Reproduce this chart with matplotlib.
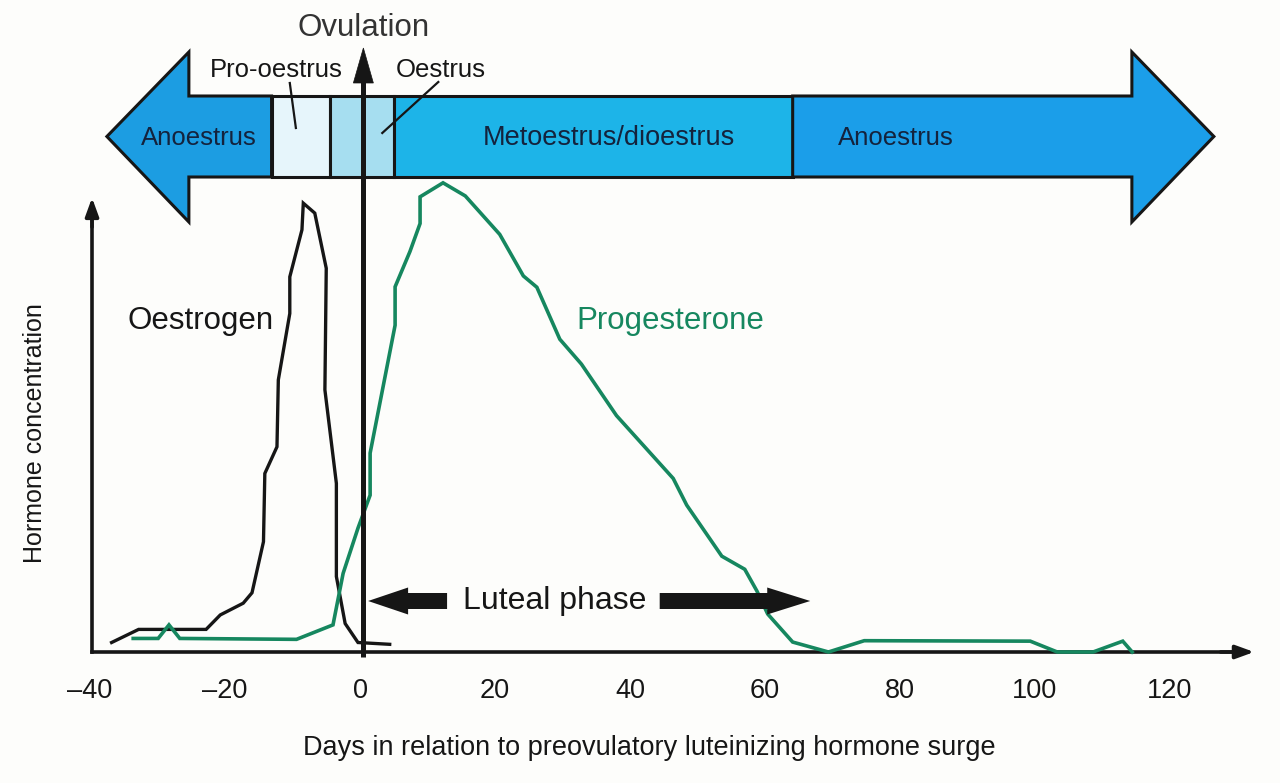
import matplotlib
matplotlib.use("Agg")
import matplotlib.pyplot as plt
from matplotlib.patches import Polygon, Rectangle

# ---------------- data ----------------
oes_days = [-36.8, -32.8, -22.8, -20.7, -17.3, -16.0, -14.3, -14.1, -12.3, -12.1, -10.4,
            -10.4, -8.6, -8.4, -6.7, -5.0, -5.2, -3.5, -3.5, -2.2, -0.3, 4.4]
oes_vals = [2.1, 5.0, 5.0, 8.2, 10.8, 13.1, 24.4, 39.5, 45.4, 60.2, 74.9,
            83.0, 93.4, 99.3, 97.1, 84.9, 58.0, 37.3, 16.7, 6.3, 2.1, 1.7]

pro_days = [-33.6, -29.9, -28.3, -26.7, -9.4, -4.0, -2.5, -0.3, 1.5, 1.5, 5.2, 5.2, 7.4,
            8.9, 8.9, 12.3, 15.6, 20.7, 24.2, 26.2, 29.6, 32.8, 38.0, 46.4, 48.4, 53.6,
            57.0, 58.8, 60.4, 64.1, 69.4, 74.7, 99.3, 103.3, 108.6, 113.0, 114.4]
pro_vals = [3.0, 3.0, 6.0, 3.0, 2.8, 6.0, 17.4, 27.4, 34.7, 44.0, 72.3, 80.8, 88.6,
            94.8, 100.7, 103.8, 100.9, 92.4, 83.2, 80.7, 69.2, 63.7, 52.3, 38.4, 32.5, 21.2,
            18.3, 13.5, 8.4, 2.2, 0.0, 2.5, 2.4, 0.0, 0.0, 2.4, 0.0]

phase_names = ["Anoestrus", "Pro-oestrus", "Oestrus", "Metoestrus/dioestrus", "Anoestrus"]
phase_bounds = [-37.5, -13.1, -4.5, 5.1, 64.1, 126.5]
phase_colors = ["#1c9de2", "#e6f5fb", "#a6def0", "#1db4e8", "#1b9ee9"]

xticks = [-40, -20, 0, 20, 40, 60, 80, 100, 120]
xticklabels = ["\u201340", "\u201320", "0", "20", "40", "60", "80", "100", "120"]

ovulation_day = 0.5
luteal_start, luteal_end = 1.2, 66.7

# ---------------- figure ----------------
PXD = 1 / 6.75   # days per pixel
PXY = 1 / 4.52   # units per pixel

fig = plt.figure(figsize=(12.8, 7.83), dpi=100)
fig.patch.set_facecolor("#fdfdfb")
ax = fig.add_axes([0, 0, 1, 1])
ax.set_facecolor("#fdfdfb")
ax.set_xlim(-360 * PXD, 920 * PXD)
ax.set_ylim(-131 * PXY, 652 * PXY)

SANS = ["Liberation Sans", "DejaVu Sans"]
INK = "#161616"
GREEN = "#16875f"

# axes (spines with arrowheads)
for s in ["top", "right"]:
    ax.spines[s].set_visible(False)
ax.spines["bottom"].set_position(("data", 0))
ax.spines["left"].set_position(("data", -39.7))
ax.spines["bottom"].set_bounds(-39.7, 129.0)
ax.spines["left"].set_bounds(0, 96)
for s in ["bottom", "left"]:
    ax.spines[s].set_linewidth(2.6)
    ax.spines[s].set_color(INK)
ax.annotate("", xy=(129.5 + 20 * PXD, 0), xytext=(127.5, 0),
            arrowprops=dict(arrowstyle="-|>,head_length=1.1,head_width=0.4", lw=2.6,
                            color=INK, shrinkA=0, shrinkB=0))
ax.annotate("", xy=(-39.7, 100.5), xytext=(-39.7, 94.0),
            arrowprops=dict(arrowstyle="-|>,head_length=1.1,head_width=0.4", lw=2.6,
                            color=INK, shrinkA=0, shrinkB=0))

ax.set_xticks(xticks)
ax.set_xticklabels(xticklabels, family=SANS, fontsize=19.5, color=INK)
ax.set_yticks([])
ax.tick_params(axis="x", length=0, pad=19)

# curves
ax.plot(oes_days, oes_vals, color=INK, lw=2.4, solid_joinstyle="miter", zorder=3)
ax.plot(pro_days, pro_vals, color=GREEN, lw=2.6, solid_joinstyle="miter", zorder=3)

# ---------------- phase banner ----------------
sh_top, sh_bot = (652 - 96) * PXY, (652 - 177) * PXY
hd_top, hd_bot = (652 - 52) * PXY, (652 - 222) * PXY
mid = (sh_top + sh_bot) / 2
txt_mid = (652 - 138) * PXY
head_len = 82 * PXD
edge = dict(edgecolor=INK, linewidth=2.2, joinstyle="miter", zorder=4)

b = phase_bounds
left_poly = [(b[0], mid), (b[0] + head_len, hd_top), (b[0] + head_len, sh_top), (b[1], sh_top),
             (b[1], sh_bot), (b[0] + head_len, sh_bot), (b[0] + head_len, hd_bot)]
ax.add_patch(Polygon(left_poly, closed=True, facecolor=phase_colors[0], **edge))
for i in range(1, 4):
    ax.add_patch(Rectangle((b[i], sh_bot), b[i + 1] - b[i], sh_top - sh_bot,
                           facecolor=phase_colors[i], **edge))
right_poly = [(b[4], sh_top), (b[5] - head_len, sh_top), (b[5] - head_len, hd_top), (b[5], mid),
              (b[5] - head_len, hd_bot), (b[5] - head_len, sh_bot), (b[4], sh_bot)]
ax.add_patch(Polygon(right_poly, closed=True, facecolor=phase_colors[4], **edge))

NAVY = "#14233d"
ax.text(-23.9, txt_mid, phase_names[0], ha="center", va="center", fontsize=18.5, family=SANS, color=NAVY, zorder=5)
ax.text(36.9, txt_mid, phase_names[3], ha="center", va="center", fontsize=19.5, family=SANS, color=NAVY, zorder=5)
ax.text(79.4, txt_mid, phase_names[4], ha="center", va="center", fontsize=18.5, family=SANS, color=NAVY, zorder=5)

# Pro-oestrus / Oestrus callouts
ax.text(-12.4, (652 - 70) * PXY, phase_names[1], ha="center", va="center", fontsize=18.5, family=SANS, color=INK)
ax.text(11.9, (652 - 70) * PXY, phase_names[2], ha="center", va="center", fontsize=18.5, family=SANS, color=INK)
ax.plot([-10.4, -9.5], [(652 - 83) * PXY, (652 - 128) * PXY], color=INK, lw=1.6, zorder=6)
ax.plot([11.6, 3.3], [(652 - 82) * PXY, (652 - 133) * PXY], color=INK, lw=1.6, zorder=6)

# ---------------- ovulation arrow ----------------
ov_tip = (652 - 48) * PXY
ax.plot([ovulation_day, ovulation_day], [-1.0, ov_tip - 6], color=INK, lw=3.6,
        solid_capstyle="butt", zorder=7)
ax.add_patch(Polygon([(ovulation_day - 10 * PXD, (652 - 83) * PXY),
                      (ovulation_day, ov_tip),
                      (ovulation_day + 10 * PXD, (652 - 83) * PXY)],
                     closed=True, facecolor=INK, edgecolor=INK, lw=0.5, zorder=7))
ax.text(ovulation_day, (652 - 28) * PXY, "Ovulation", ha="center", va="center",
        fontsize=22.5, family=SANS, color="#333333")

# ---------------- luteal phase arrows ----------------
ly = (652 - 601) * PXY
shaft_h = 8 * PXY
head_h = 13.5 * PXY
lhead = 40 * PXD
l_end = 12.9
ax.add_patch(Polygon([(luteal_start, ly), (luteal_start + lhead, ly + head_h), (luteal_start + lhead, ly + shaft_h),
                      (l_end, ly + shaft_h), (l_end, ly - shaft_h), (luteal_start + lhead, ly - shaft_h),
                      (luteal_start + lhead, ly - head_h)], closed=True, facecolor=INK, edgecolor="none", zorder=6))
r_start = 44.4
rb = luteal_end - lhead - 3 * PXD
ax.add_patch(Polygon([(luteal_end, ly), (rb, ly + head_h), (rb, ly + shaft_h),
                      (r_start, ly + shaft_h), (r_start, ly - shaft_h), (rb, ly - shaft_h),
                      (rb, ly - head_h)], closed=True, facecolor=INK, edgecolor="none", zorder=6))
ax.text(28.9, ly, "Luteal phase", ha="center", va="center", fontsize=23, family=SANS, color=INK)

# ---------------- labels ----------------
ax.text(-23.6, (652 - 321) * PXY, "Oestrogen", ha="center", va="center", fontsize=22.5, family=SANS, color=INK)
ax.text(45.9, (652 - 321) * PXY, "Progesterone", ha="center", va="center", fontsize=22.5, family=SANS, color=GREEN)
ax.text(-48.1, (652 - 433) * PXY, "Hormone concentration", ha="center", va="center", rotation=90,
        fontsize=18, family=SANS, color=INK)
ax.text(42.8, (652 - 748) * PXY, "Days in relation to preovulatory luteinizing hormone surge",
        ha="center", va="center", fontsize=19.5, family=SANS, color=INK)

fig.savefig("out.png", dpi=100, facecolor=fig.get_facecolor())
